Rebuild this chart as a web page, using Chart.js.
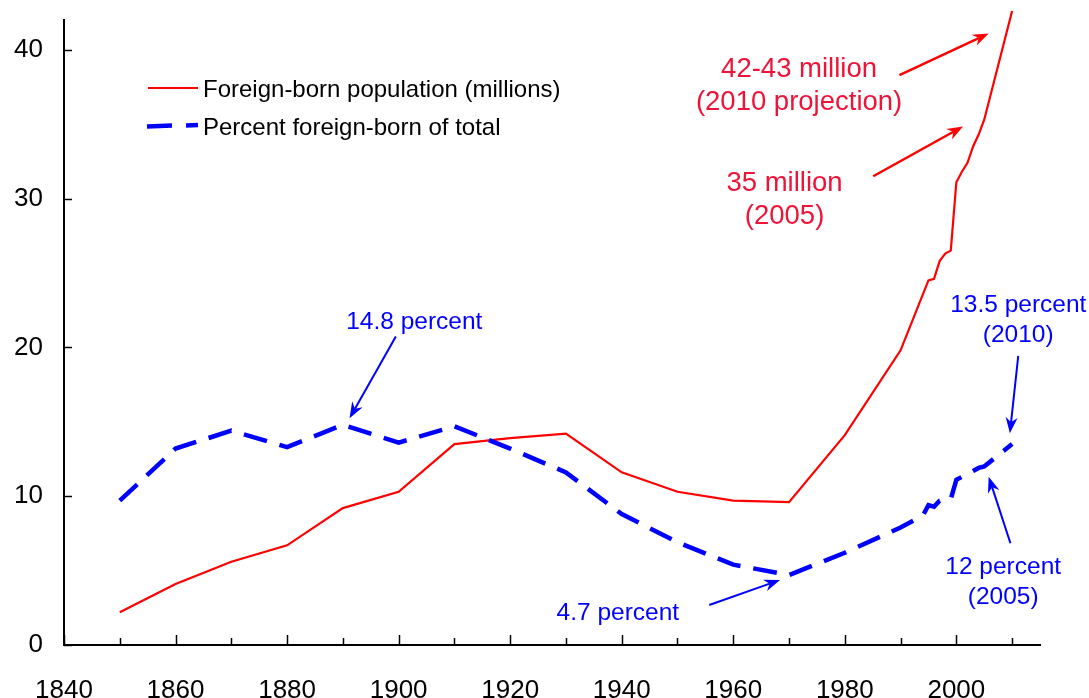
<!DOCTYPE html>
<html>
<head>
<meta charset="utf-8">
<script src="https://cdn.jsdelivr.net/npm/chart.js@4.4.1/dist/chart.umd.min.js"></script>
<style>
  html, body { margin: 0; padding: 0; background: #fff; }
  canvas { display: block; }
</style>
</head>
<body>
<canvas id="chart" width="1089" height="698"></canvas>
<script>
// Foreign-born population (millions)
const popYears = [1850, 1860, 1870, 1880, 1890, 1900, 1910, 1920, 1930, 1940, 1950, 1960, 1970, 1980, 1990,
  1995, 1996, 1997, 1998, 1999, 2000, 2001, 2002, 2003, 2004, 2005, 2010];
const popMillions = [2.2, 4.1, 5.6, 6.7, 9.2, 10.3, 13.5, 13.9, 14.2, 11.6, 10.3, 9.7, 9.6, 14.1, 19.8,
  24.5, 24.6, 25.8, 26.3, 26.5, 31.1, 31.8, 32.4, 33.5, 34.3, 35.3, 42.6];

// Percent foreign-born of total
const pctYears = [1850, 1860, 1870, 1880, 1890, 1900, 1910, 1920, 1930, 1940, 1950, 1960, 1970, 1980, 1990,
  1994, 1995, 1996, 1997, 1998, 1999, 2000, 2001, 2002, 2003, 2004, 2005, 2010];
const pctValues = [9.7, 13.2, 14.4, 13.3, 14.8, 13.6, 14.7, 13.2, 11.6, 8.8, 6.9, 5.4, 4.7, 6.2, 7.9,
  8.7, 9.4, 9.3, 9.7, 9.8, 9.8, 11.1, 11.3, 11.5, 11.7, 11.9, 12.0, 13.5];

const xTickYears = [1840, 1850, 1860, 1870, 1880, 1890, 1900, 1910, 1920, 1930, 1940, 1950, 1960, 1970, 1980, 1990, 2000, 2010];
const yTickValues = [0, 10, 20, 30, 40];

const legendLabels = ['Foreign-born population (millions)', 'Percent foreign-born of total'];

// callouts: text lines, anchor (year, value) of first line, arrow tail and tip
const notes = [
  { lines: ['42-43 million', '(2010 projection)'], at: [1971.8, 38.86], gap: 33, size: 27.5, color: '#ee1438',
    arrow: [[1989.8, 38.3], [2005.8, 41.1]], arrowColor: '#ff0000' },
  { lines: ['35 million', '(2005)'], at: [1969.2, 31.19], gap: 33, size: 27.5, color: '#ee1438',
    arrow: [[1985.1, 31.5], [2001.2, 34.85]], arrowColor: '#ff0000' },
  { lines: ['14.8 percent'], at: [1902.8, 21.85], gap: 30, size: 24.5, color: '#0000ff',
    arrow: [[1899.5, 20.73], [1891.2, 15.24]], arrowColor: '#0000ff' },
  { lines: ['13.5 percent', '(2010)'], at: [2011.1, 22.99], gap: 30, size: 24.5, color: '#0000ff',
    arrow: [[2011.1, 19.43], [2009.6, 14.23]], arrowColor: '#0000ff' },
  { lines: ['12 percent', '(2005)'], at: [2008.4, 5.38], gap: 30, size: 24.5, color: '#0000ff',
    arrow: [[2009.7, 6.84], [2005.8, 11.31]], arrowColor: '#0000ff' },
  { lines: ['4.7 percent'], at: [1939.3, 2.29], gap: 30, size: 24.5, color: '#0000ff',
    arrow: [[1955.7, 2.69], [1968.4, 4.37]], arrowColor: '#0000ff' }
];

const FONT = '"Liberation Sans", Arial, Helvetica, sans-serif';

function drawArrow(ctx, x1, y1, x2, y2, color, width) {
  const ang = Math.atan2(y2 - y1, x2 - x1);
  const len = 16, half = 6, notch = 11;
  ctx.save();
  ctx.strokeStyle = color;
  ctx.fillStyle = color;
  ctx.lineWidth = width;
  ctx.beginPath();
  ctx.moveTo(x1, y1);
  ctx.lineTo(x2 - Math.cos(ang) * notch, y2 - Math.sin(ang) * notch);
  ctx.stroke();
  const bx = x2 - Math.cos(ang) * len, by = y2 - Math.sin(ang) * len;
  const px = -Math.sin(ang) * half, py = Math.cos(ang) * half;
  ctx.beginPath();
  ctx.moveTo(x2, y2);
  ctx.lineTo(bx + px, by + py);
  ctx.lineTo(x2 - Math.cos(ang) * notch, y2 - Math.sin(ang) * notch);
  ctx.lineTo(bx - px, by - py);
  ctx.closePath();
  ctx.fill();
  ctx.restore();
}

const decorPlugin = {
  id: 'decor',
  afterDraw(chart) {
    const ctx = chart.ctx;
    const xs = chart.scales.x, ys = chart.scales.y;
    const area = chart.chartArea;

    // inside tick marks
    ctx.save();
    ctx.strokeStyle = '#000';
    ctx.lineWidth = 1.5;
    xTickYears.forEach(v => {
      const px = Math.round(xs.getPixelForValue(v)) + 0.5;
      const len = v % 20 === 0 ? 10 : 7;
      ctx.beginPath();
      ctx.moveTo(px, area.bottom);
      ctx.lineTo(px, area.bottom - len);
      ctx.stroke();
    });
    yTickValues.forEach(v => {
      const py = Math.round(ys.getPixelForValue(v)) + 0.5;
      ctx.beginPath();
      ctx.moveTo(area.left, py);
      ctx.lineTo(area.left + 8, py);
      ctx.stroke();
    });
    ctx.restore();

    // legend
    ctx.save();
    ctx.lineCap = 'butt';
    ctx.strokeStyle = '#ff0000';
    ctx.lineWidth = 2;
    ctx.beginPath();
    ctx.moveTo(148, 88);
    ctx.lineTo(198, 88);
    ctx.stroke();
    ctx.strokeStyle = '#0000ff';
    ctx.lineWidth = 4.5;
    ctx.beginPath();
    ctx.moveTo(147, 126.5); ctx.lineTo(172, 125.5);
    ctx.moveTo(186, 125.5); ctx.lineTo(198, 125);
    ctx.stroke();
    ctx.fillStyle = '#000';
    ctx.font = '24px ' + FONT;
    ctx.textAlign = 'left';
    ctx.textBaseline = 'alphabetic';
    ctx.fillText(legendLabels[0], 203, 96.5);
    ctx.fillText(legendLabels[1], 203, 135);
    ctx.restore();

    // callouts
    notes.forEach(n => {
      const cx = xs.getPixelForValue(n.at[0]);
      const cy = ys.getPixelForValue(n.at[1]);
      ctx.save();
      ctx.fillStyle = n.color;
      ctx.font = n.size + 'px ' + FONT;
      ctx.textAlign = 'center';
      ctx.textBaseline = 'alphabetic';
      n.lines.forEach((t, i) => {
        ctx.fillText(t, cx, cy + i * n.gap + n.size * 0.358);
      });
      ctx.restore();
      const [t0, t1] = n.arrow;
      drawArrow(ctx,
        xs.getPixelForValue(t0[0]), ys.getPixelForValue(t0[1]),
        xs.getPixelForValue(t1[0]), ys.getPixelForValue(t1[1]),
        n.arrowColor, n.arrowColor === '#ff0000' ? 2.5 : 2);
    });
  }
};

const ctx = document.getElementById('chart').getContext('2d');
const chart = new Chart(ctx, {
  type: 'line',
  data: {
    datasets: [
      {
        label: legendLabels[0],
        data: popYears.map((y, i) => ({ x: y, y: popMillions[i] })),
        borderColor: '#ff0000',
        borderWidth: 2.2,
        pointRadius: 0,
        tension: 0,
        clip: false,
        order: 2
      },
      {
        label: legendLabels[1],
        data: pctYears.map((y, i) => ({ x: y, y: pctValues[i] })),
        borderColor: '#0000ff',
        borderWidth: 4.5,
        borderDash: [24, 13],
        borderCapStyle: 'butt',
        pointRadius: 0,
        tension: 0,
        order: 1
      }
    ]
  },
  options: {
    responsive: false,
    animation: false,
    devicePixelRatio: 1,
    layout: { padding: { top: 20, right: 49, left: 0, bottom: 0 } },
    plugins: { legend: { display: false }, tooltip: { enabled: false } },
    scales: {
      x: {
        type: 'linear',
        min: 1840,
        max: 2015,
        grid: { display: false },
        border: { display: true, color: '#000', width: 2 },
        afterBuildTicks: scale => { scale.ticks = xTickYears.map(v => ({ value: v })); },
        afterFit: scale => {
          scale.height = 53;
          scale.paddingLeft = 0; scale.paddingRight = 0;
        },
        ticks: {
          autoSkip: false,
          maxRotation: 0,
          padding: 22,
          color: '#000',
          font: { family: FONT, size: 26 },
          callback: v => (v % 20 === 0 ? String(v) : '')
        }
      },
      y: {
        min: 0,
        max: 42,
        grid: { display: false },
        border: { display: true, color: '#000', width: 2 },
        afterBuildTicks: scale => { scale.ticks = yTickValues.map(v => ({ value: v })); },
        afterFit: scale => {
          scale.width = 64;
          scale.paddingTop = 0; scale.paddingBottom = 0;
        },
        ticks: {
          padding: 13,
          color: '#000',
          font: { family: FONT, size: 26 }
        }
      }
    }
  },
  plugins: [decorPlugin]
});
</script>
</body>
</html>
